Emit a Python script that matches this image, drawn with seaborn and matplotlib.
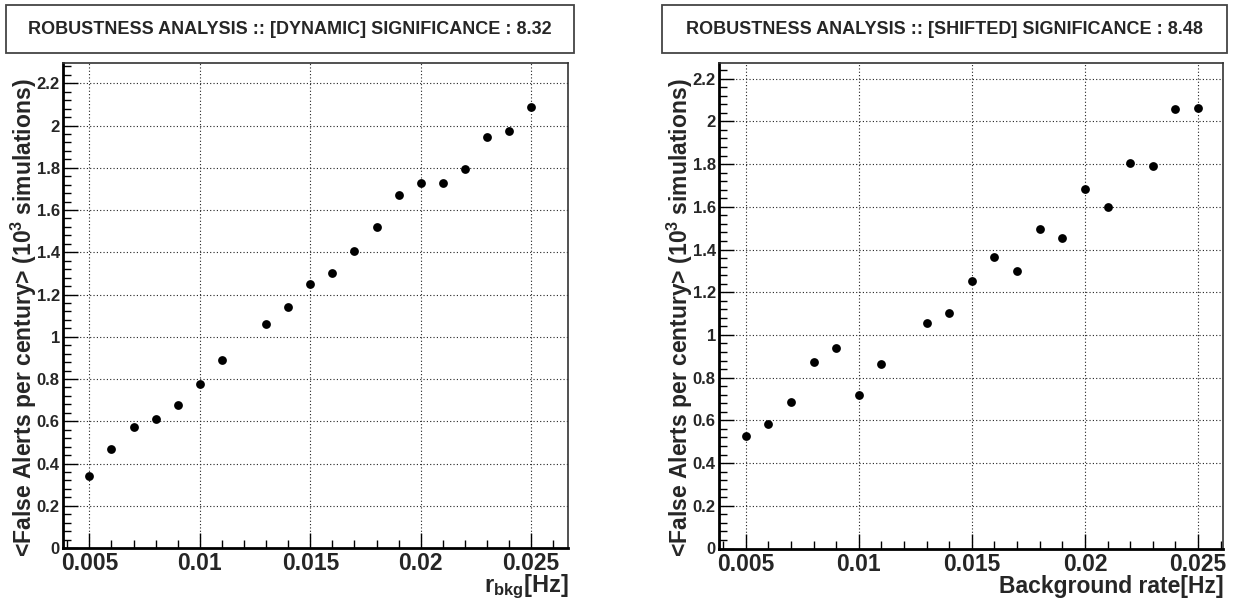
import numpy as np
import pandas as pd
import matplotlib
matplotlib.use("Agg")
import matplotlib.pyplot as plt
from matplotlib.patches import Rectangle
from matplotlib.ticker import MultipleLocator, FuncFormatter
import seaborn as sns

# Background rates scanned (Hz); 0.012 Hz was not simulated
rate_hz = [0.005, 0.006, 0.007, 0.008, 0.009, 0.010, 0.011,
           0.013, 0.014, 0.015, 0.016, 0.017, 0.018, 0.019,
           0.020, 0.021, 0.022, 0.023, 0.024, 0.025]

# Mean false alerts per century (1e3 simulations each)
alerts_dynamic = [0.341, 0.470, 0.574, 0.609, 0.677, 0.778, 0.889,
                  1.059, 1.143, 1.250, 1.301, 1.406, 1.521, 1.673,
                  1.727, 1.727, 1.796, 1.947, 1.976, 2.087]
alerts_shifted = [0.526, 0.581, 0.684, 0.874, 0.937, 0.721, 0.862,
                  1.058, 1.103, 1.253, 1.365, 1.300, 1.497, 1.454,
                  1.684, 1.597, 1.805, 1.789, 2.057, 2.065]

titles = ["ROBUSTNESS ANALYSIS :: [DYNAMIC] SIGNIFICANCE : 8.32",
          "ROBUSTNESS ANALYSIS :: [SHIFTED] SIGNIFICANCE : 8.48"]
xlabels = [r"$\mathbf{r_{bkg}}$[Hz]", "Background rate[Hz]"]
ylabel = r"<False Alerts per century> (10$^{\mathbf{3}}$ simulations)"
xticks = [0.005, 0.01, 0.015, 0.02, 0.025]
xtick_labels = ["0.005", "0.01", "0.015", "0.02", "0.025"]

sns.set_style("ticks")
plt.rcParams["font.family"] = ["Liberation Sans", "DejaVu Sans"]
plt.rcParams["font.weight"] = "bold"
plt.rcParams["mathtext.fontset"] = "custom"
plt.rcParams["mathtext.rm"] = "Liberation Sans:bold"
plt.rcParams["mathtext.bf"] = "Liberation Sans:bold"
plt.rcParams["mathtext.it"] = "Liberation Sans:bold"
plt.rcParams["mathtext.default"] = "bf"

W, H = 1238, 603
fig = plt.figure(figsize=(W / 100, H / 100), dpi=100)

panels = [
    dict(rect=(63.3, 568.3, 63.0, 548.0), xlim=(0.00382, 0.02668), ymax=2.296,
         y=alerts_dynamic, box=(6, 574), ylab_x=24, xlab_top=573, xlab_fs=17),
    dict(rect=(719.3, 1223.3, 63.3, 548.5), xlim=(0.00383, 0.02612), ymax=2.272,
         y=alerts_shifted, box=(662, 1227), ylab_x=680, xlab_top=575,
         xlab_fs=16.5),
]


def fmt_y(v, _):
    if abs(v) < 1e-9:
        return "0"
    s = f"{v:.1f}"
    return s[:-2] if s.endswith(".0") else s


for i, p in enumerate(panels):
    x0, x1, yt, yb = p["rect"]
    ax = fig.add_axes([x0 / W, 1 - yb / H, (x1 - x0) / W, (yb - yt) / H])
    df = pd.DataFrame({"rate": rate_hz, "alerts": p["y"]})
    sns.scatterplot(data=df, x="rate", y="alerts", ax=ax, color="black",
                    s=40, linewidth=0, zorder=3)
    ax.set_xlim(*p["xlim"])
    ax.set_ylim(0, p["ymax"])
    ax.set_xlabel("")
    ax.set_ylabel("")

    ax.set_xticks(xticks)
    ax.set_xticklabels(xtick_labels)
    ax.xaxis.set_minor_locator(MultipleLocator(0.001))
    ax.yaxis.set_major_locator(MultipleLocator(0.2))
    ax.yaxis.set_minor_locator(MultipleLocator(0.04))
    ax.yaxis.set_major_formatter(FuncFormatter(fmt_y))

    ax.tick_params(axis="both", which="both", direction="in", top=False,
                   right=False, color="black")
    ax.tick_params(axis="both", which="major", length=11, width=1.0)
    ax.tick_params(axis="both", which="minor", length=5.5, width=1.0)
    ax.tick_params(axis="x", which="major", labelsize=16.5, pad=3)
    ax.tick_params(axis="y", which="major", labelsize=12, pad=2.5)
    for lab in ax.get_xticklabels() + ax.get_yticklabels():
        lab.set_fontweight("bold")

    ax.grid(True, which="major", color="#222222", linestyle=(0, (1, 2)),
            linewidth=0.8)
    ax.set_axisbelow(True)

    for side in ("left", "bottom"):
        ax.spines[side].set_linewidth(2.0)
        ax.spines[side].set_color("black")
    for side in ("top", "right"):
        ax.spines[side].set_linewidth(1.2)
        ax.spines[side].set_color("#333333")

    ax.text(1.0, -(p["xlab_top"] - yb) / (yb - yt), xlabels[i],
            transform=ax.transAxes, ha="right", va="top",
            fontsize=p["xlab_fs"], fontweight="bold")
    ax.text((p["ylab_x"] - x0) / (x1 - x0), (yb - 78) / (yb - yt), ylabel,
            transform=ax.transAxes, rotation=90, ha="center", va="top",
            fontsize=16.5, fontweight="bold")

    bx0, bx1 = p["box"]
    fig.add_artist(Rectangle((bx0 / W, 1 - 53 / H), (bx1 - bx0) / W, 48 / H,
                             transform=fig.transFigure, fill=False,
                             edgecolor="#444444", linewidth=1.3))
    fig.text((bx0 + bx1) / 2 / W, 1 - 29 / H, titles[i], ha="center",
             va="center", fontsize=13, fontweight="bold")

fig.savefig("out.png", dpi=100, facecolor="white")
